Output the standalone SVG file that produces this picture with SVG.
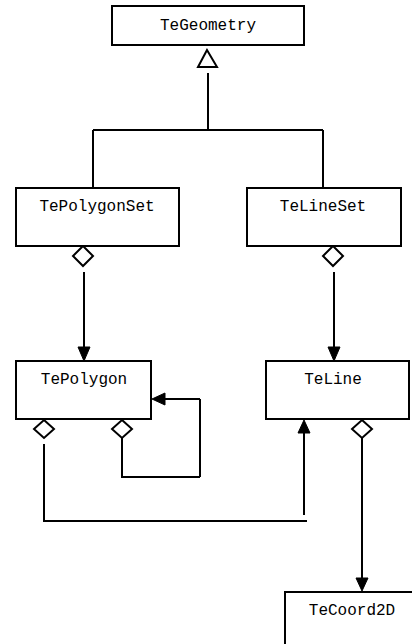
<svg xmlns="http://www.w3.org/2000/svg" width="412" height="644" viewBox="0 0 412 644">
<style>
.box{fill:#fff;stroke:#000;stroke-width:2}
.lbl{font-family:"Liberation Mono","Courier New",monospace;font-size:16px;fill:#000;text-anchor:middle}
.ln{fill:none;stroke:#000;stroke-width:2}
.dia{fill:#fff;stroke:#000;stroke-width:2}
.tri{fill:#fff;stroke:#000;stroke-width:2}
.ah{fill:#000;stroke:#000;stroke-width:1}
</style>
<rect width="412" height="644" fill="#fff"/>
<g id="connectors">
  <!-- generalization -->
  <polygon class="tri" points="207,50 198,67 217,67"/>
  <path class="ln" d="M208,73 V130 M93,130 H323 M93,130 V188 M323,130 V188"/>
  <!-- PolygonSet -> Polygon -->
  <polygon class="dia" points="83,246 93,256 83,266 73,256"/>
  <path class="ln" d="M84,272 V348"/>
  <polygon class="ah" points="78,347 90,347 84,361"/>
  <!-- LineSet -> Line -->
  <polygon class="dia" points="333,246 343,256 333,266 323,256"/>
  <path class="ln" d="M334,272 V348"/>
  <polygon class="ah" points="328,347 340,347 334,361"/>
  <!-- Polygon self loop -->
  <polygon class="dia" points="122,420 132,429 122,438 112,429"/>
  <path class="ln" d="M122,438 V477 H200 M200,399 V477 M200,399 H163"/>
  <polygon class="ah" points="152,399 165,393 165,405"/>
  <!-- Polygon -> Line -->
  <polygon class="dia" points="44,420 54,429 44,438 34,429"/>
  <path class="ln" d="M44,444 V521 H307 M304,515 V432"/>
  <polygon class="ah" points="304,420 298,433 310,433"/>
  <!-- Line -> Coord2D -->
  <polygon class="dia" points="362,420 372,429 362,438 352,429"/>
  <path class="ln" d="M362,438 V578"/>
  <polygon class="ah" points="356,578 368,578 362,591"/>
</g>
<g id="TeGeometry">
  <rect class="box" x="112" y="6" width="192" height="39"/>
  <text class="lbl" x="208" y="30">TeGeometry</text>
</g>
<g id="TePolygonSet">
  <rect class="box" x="16" y="188" width="163" height="58"/>
  <text class="lbl" x="97" y="211">TePolygonSet</text>
</g>
<g id="TeLineSet">
  <rect class="box" x="247" y="188" width="154" height="58"/>
  <text class="lbl" x="323" y="211">TeLineSet</text>
</g>
<g id="TePolygon">
  <rect class="box" x="16" y="361" width="135" height="58"/>
  <text class="lbl" x="84" y="384">TePolygon</text>
</g>
<g id="TeLine">
  <rect class="box" x="266" y="361" width="143" height="58"/>
  <text class="lbl" x="333" y="384">TeLine</text>
</g>
<g id="TeCoord2D">
  <rect class="box" x="285" y="592" width="140" height="60"/>
  <text class="lbl" x="352" y="615">TeCoord2D</text>
</g>
</svg>
